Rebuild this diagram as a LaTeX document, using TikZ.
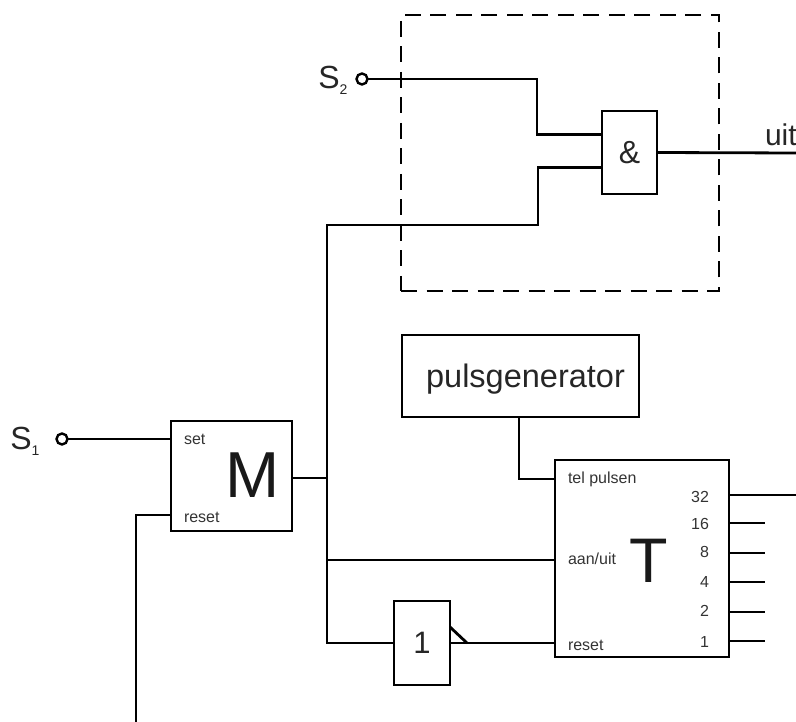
\documentclass[tikz,border=0pt]{standalone}
\usepackage{fontspec}
\setmainfont{Liberation Sans}
\usetikzlibrary{positioning}
\newcommand{\subnum}[1]{\raisebox{-6pt}{\fontsize{14}{14}\selectfont #1}}

\begin{document}
\begin{tikzpicture}[
  x=1pt,y=1pt,
  box/.style={draw,line width=2.8pt,outer sep=0pt,inner sep=0pt,text=black!85},
  wire/.style={line width=2.8pt},
  term/.style={draw,circle,line width=2.4pt,minimum size=11pt,inner sep=0pt,outer sep=0pt},
  lab/.style={inner sep=0pt,outer sep=0pt,text height=12pt,text depth=3pt,font=\fontsize{16}{18}\selectfont,text=black!80},
  biglab/.style={inner sep=0pt,outer sep=0pt,font=\fontsize{32}{34}\selectfont,text=black!85}]
\useasboundingbox (0,0) rectangle (796,-722);
\node[box,minimum width=121pt,minimum height=110pt] (mem) at (231.5,-476) {};
\node[box,minimum width=174pt,minimum height=197pt,below right=39pt and 263pt of mem.north east,anchor=north west] (counter) {};
\node[box,minimum width=237pt,minimum height=82pt,above left=43pt and 153pt of counter.north west,anchor=south west] (pulsgen) {};
\node[box,minimum width=56pt,minimum height=84pt,below left=28pt and 105pt of counter.south west,anchor=south east,font=\fontsize{31}{34}\selectfont] (notgate) {1};
\node[box,minimum width=55pt,minimum height=83pt,above right=141pt and 18pt of pulsgen.north east,anchor=south east,font=\fontsize{32}{34}\selectfont] (andgate) {\&};
\node[draw,dash pattern=on 16pt off 9.5pt,line width=2.8pt,outer sep=0pt,minimum width=318pt,minimum height=276pt,above left=44pt and 1pt of pulsgen.north west,anchor=south west] (dashbox) {};
\node[font=\fontsize{32.5}{34}\selectfont,inner sep=0pt,text=black!85] (pulslab) at ([xshift=5pt,yshift=-3pt]pulsgen.center) {pulsgenerator};
% inputs
\node[term,left=109pt of mem.north west,yshift=-18pt,anchor=center] (sone) {};
\node[term,above right=342pt and 191pt of mem.north west,anchor=center] (stwo) {};
\node[biglab,left=17pt of sone,yshift=-2pt] (sonelab) {S\subnum{1}};
\node[biglab,left=9pt of stwo,yshift=-1pt] (stwolab) {S\subnum{2}};
% labels in the blocks
\node[lab,below right=11pt and 13pt of mem.north west,anchor=north west] (setlab) {set};
\node[lab,above right=6pt and 13pt of mem.south west,anchor=south west] (resetlab) {reset};
\node[font=\fontsize{65}{68}\selectfont,inner sep=0pt,text=black!90] (memlab) at ([xshift=21pt,yshift=1pt]mem.center) {M};
\node[font=\fontsize{63}{66}\selectfont,inner sep=0pt,text=black!90] (counterlab) at ([xshift=7pt,yshift=-2pt]counter.center) {T};
% counter ports
\coordinate[below=19pt of counter.north west] (telin);
\coordinate[below=100pt of counter.north west] (aanin);
\coordinate[above=14pt of counter.south west] (rstin);
\coordinate[below=35pt of counter.north east] (qa);
\coordinate[below=63pt of counter.north east] (qb);
\coordinate[below=93pt of counter.north east] (qc);
\coordinate[below=122pt of counter.north east] (qd);
\coordinate[below=152pt of counter.north east] (qe);
\coordinate[below=181pt of counter.north east] (qf);
\node[lab,right=13pt of telin] (tellab) {tel pulsen};
\node[lab,right=13pt of aanin] (aanlab) {aan/uit};
\node[lab,right=13pt of rstin,yshift=-3pt] (rstlab) {reset};
\node[lab,left=20pt of qa,yshift=-3pt] (qalab) {32};
\node[lab,left=20pt of qb,yshift=-2pt] (qblab) {16};
\node[lab,left=20pt of qc] (qclab) {8};
\node[lab,left=20pt of qd,yshift=-1pt] (qdlab) {4};
\node[lab,left=20pt of qe] (qelab) {2};
\node[lab,left=20pt of qf,yshift=-2pt] (qflab) {1};
% free ends
\coordinate (qaend) at (796,-495);
\coordinate[right=36pt of qb] (qbend);
\coordinate[right=36pt of qc] (qcend);
\coordinate[right=36pt of qd] (qdend);
\coordinate[right=36pt of qe] (qeend);
\coordinate[right=36pt of qf] (qfend);
\coordinate (uitend) at (796,-153);
\coordinate (rstend) at (136,-722);
\coordinate[above=35pt of notgate.south east,yshift=7pt] (notout);
\coordinate[right=17pt of notout] (notoutb);
\coordinate[above=16pt of notout] (wedge);
\coordinate (bus) at (327,-478);
\node[biglab,font=\fontsize{30}{32}\selectfont,anchor=base west] (uitlab) at (765,-146) {uit};
% wires
\draw[wire] (sone) -- (sone -| mem.west);
\draw[wire] (stwo) -- (537,-79) |- ([yshift=18pt]andgate.west);
\draw[wire] ([yshift=-15pt]andgate.west) -| (538,-225) -| (bus) -- (mem.east |- bus);
\draw[wire] (andgate.east) -- (uitend);
\draw[wire] ([xshift=-1.5pt]pulsgen.south) |- (telin);
\draw[wire] (bus) |- (aanin);
\draw[wire] (bus) |- (notgate.west);
\draw[wire] (notout) -- (rstin);
\draw[wire,line join=miter] (wedge) -- (notoutb);
\draw[wire] (rstend) |- ([yshift=16pt]mem.south west);
\draw[wire] (qa) -- (qaend);
\draw[wire] (qb) -- (qbend);
\draw[wire] (qc) -- (qcend);
\draw[wire] (qd) -- (qdend);
\draw[wire] (qe) -- (qeend);
\draw[wire] (qf) -- (qfend);
\end{tikzpicture}
\end{document}
